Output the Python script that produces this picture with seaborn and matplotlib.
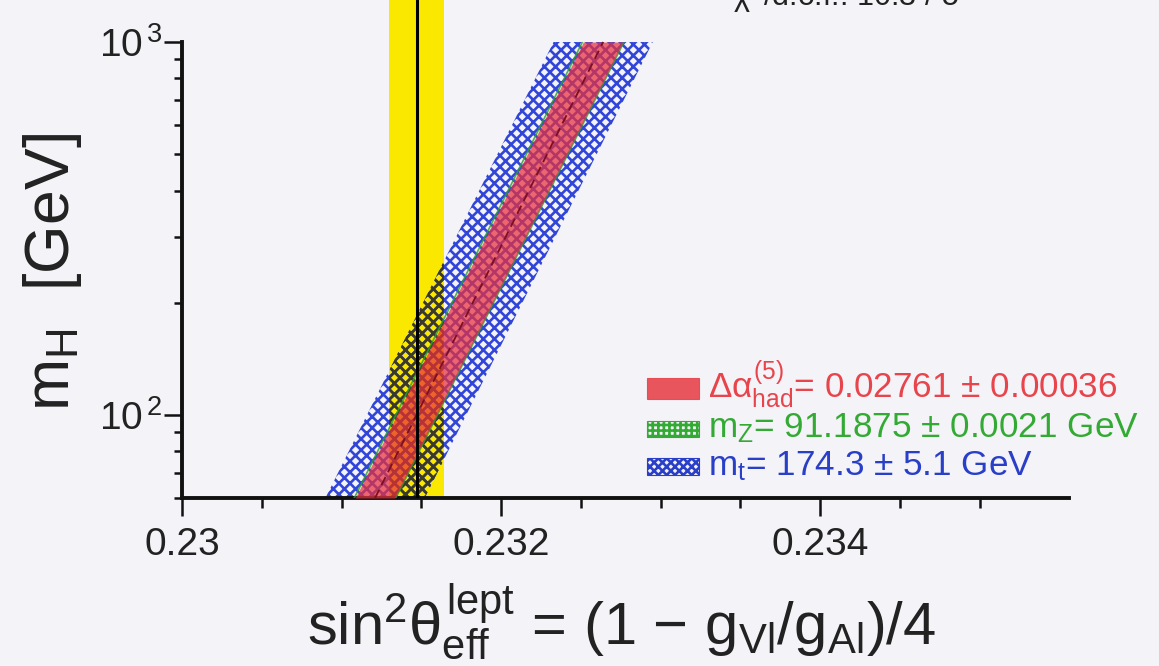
import numpy as np
import pandas as pd
import seaborn as sns
import matplotlib
matplotlib.use("Agg")
import matplotlib.pyplot as plt
from matplotlib.patches import Rectangle
from matplotlib.ticker import FixedLocator, NullFormatter

# ---- data -------------------------------------------------------------
# Higgs mass range covered by the SM prediction band [GeV]
mh_range = [60.0, 1000.0]
# SM prediction of sin^2(theta_eff) at the two ends of mh_range (band centre)
sin2_center = [0.23121, 0.23264]
# half widths of the prediction band from the input parameter errors
dalpha_halfwidth = 0.000124   # Delta alpha_had^(5)
mz_halfwidth = 0.000136       # m_Z (added on top of Delta alpha)
mt_halfwidth = 0.000311       # m_t
# measured effective weak mixing angle
sin2_meas = 0.23147
sin2_err = 0.00017

xtick_values = [0.230, 0.232, 0.234]
xtick_labels = ["0.23", "0.232", "0.234"]
ytick_values = [100, 1000]
ytick_labels = [r"$10^{\,2}$", r"$10^{\,3}$"]

legend_labels = [
    r"$\Delta\alpha^{(5)}_{\rm had}$= 0.02761 $\pm$ 0.00036",
    r"m$_{\rm Z}$= 91.1875 $\pm$ 0.0021 GeV",
    r"m$_{\rm t}$= 174.3 $\pm$ 5.1 GeV",
]
chi2_text = r"$\chi^2$/d.o.f.: 10.3 / 5"

# ---- style ------------------------------------------------------------
BG = "#f4f3f8"
YELLOW = "#fbe800"
RED = "#e8303a"
GREEN = "#2ca02c"
BLUE = "#3146d8"
LEG_RED = "#e8444c"
LEG_GREEN = "#33aa33"
LEG_BLUE = "#2a3fc8"

sns.set_theme(style="ticks")
plt.rcParams.update({
    "font.family": ["Liberation Sans", "DejaVu Sans"],
    "mathtext.fontset": "custom",
    "mathtext.rm": "Liberation Sans",
    "mathtext.it": "Liberation Sans",
    "mathtext.sf": "Liberation Sans",
    "mathtext.bf": "Liberation Sans:bold",
    "hatch.linewidth": 1.9,
    "axes.facecolor": BG,
    "figure.facecolor": BG,
    "savefig.facecolor": BG,
})

W, H = 1159, 666
fig = plt.figure(figsize=(W / 100, H / 100), dpi=100)
ax = fig.add_axes([182 / W, 1 - 498 / H, (1069 - 182) / W, 498 / H])
ax.set_facecolor(BG)
ax.set_yscale("log")
ax.set_xlim(0.23, 0.23556)
ax.set_ylim(60, 1296)

mh = np.array(mh_range)
centre = np.array(sin2_center)

# measured value: yellow 1-sigma band with central line
meas_band = ax.axvspan(sin2_meas - sin2_err, sin2_meas + sin2_err,
                       color=YELLOW, lw=0, zorder=1)

# m_t band: blue cross-hatching, darker where it sits on the yellow band
ax.fill_betweenx(mh, centre - mt_halfwidth, centre + mt_halfwidth,
                 facecolor="none", edgecolor=BLUE, hatch="xxx", lw=0, zorder=2)
dark = ax.fill_betweenx(mh, centre - mt_halfwidth, centre + mt_halfwidth,
                        facecolor="none", edgecolor="#3b3a2a", hatch="xxx",
                        lw=0, zorder=2.1)
dark.set_clip_path(meas_band)

# m_Z contribution: thin strips at the edges of the Delta alpha band
for lo, hi in [(centre - mz_halfwidth, centre - dalpha_halfwidth),
               (centre + dalpha_halfwidth, centre + mz_halfwidth)]:
    ax.fill_betweenx(mh, lo, hi, facecolor=GREEN, edgecolor="none",
                     alpha=0.8, lw=0, zorder=3)

# Delta alpha_had band
ax.fill_betweenx(mh, centre - dalpha_halfwidth, centre + dalpha_halfwidth,
                 facecolor=RED, alpha=0.72, lw=0, zorder=4)

# band centre line
centre_df = pd.DataFrame({"sin2": centre, "mh": mh})
sns.lineplot(data=centre_df, x="sin2", y="mh", ax=ax, sort=False,
             color="#7a1020", lw=1.3, linestyle=(0, (5, 3)), zorder=5)

ax.axvline(sin2_meas, color="black", lw=2.2, zorder=6)

# ---- axes -------------------------------------------------------------
for side in ["top", "right"]:
    ax.spines[side].set_visible(False)
for side in ["left", "bottom"]:
    ax.spines[side].set_linewidth(2.8)
    ax.spines[side].set_color("#111111")
ax.spines["left"].set_bounds(60, 1000)

ax.xaxis.set_major_locator(FixedLocator(xtick_values))
ax.set_xticklabels(xtick_labels)
minor_x = [v for v in np.round(np.arange(0.2305, 0.23501, 0.0005), 4)
           if v not in xtick_values]
ax.xaxis.set_minor_locator(FixedLocator(minor_x))

ax.yaxis.set_major_locator(FixedLocator(ytick_values))
ax.set_yticklabels(ytick_labels)
minor_y = [m * d for d in (10, 100) for m in range(2, 10) if 60 <= m * d < 1000]
ax.yaxis.set_minor_locator(FixedLocator(minor_y))
ax.yaxis.set_minor_formatter(NullFormatter())

ax.tick_params(axis="x", which="major", direction="out", length=13, width=1.8,
               labelsize=28, pad=8, color="#111111", labelcolor="#222222")
ax.tick_params(axis="x", which="minor", direction="out", length=7, width=1.8,
               color="#111111")
ax.tick_params(axis="y", which="major", direction="out", length=13, width=1.8,
               labelsize=28, pad=1, color="#111111", labelcolor="#222222")
ax.tick_params(axis="y", which="minor", direction="out", length=6, width=1.8,
               color="#111111")

ax.set_xlabel(r"sin$^2\theta^{\rm lept}_{\rm eff}$ = (1 $-$ g$_{\rm Vl}$/g$_{\rm Al}$)/4",
              fontsize=43, color="#222222")
ax.xaxis.label.set_va("baseline")
ax.xaxis.set_label_coords((622 - 182) / 887, -(645 - 498) / 498)

ax.set_ylabel(r"m$_{\rm H}$  [GeV]", fontsize=45, color="#222222")
ax.yaxis.label.set_va("baseline")
ax.yaxis.set_label_coords((69 - 182) / 887, 0.454)

# ---- legend -----------------------------------------------------------
rows = [
    dict(y=399, h=21, fc=LEG_RED, ec=LEG_RED, hatch=None, color=LEG_RED),
    dict(y=437, h=16, fc="none", ec=LEG_GREEN, hatch="+++", color=LEG_GREEN),
    dict(y=475, h=17, fc="none", ec=LEG_BLUE, hatch="xxxx", color=LEG_BLUE),
]
for label, r in zip(legend_labels, rows):
    rect = Rectangle((647 / W, 1 - r["y"] / H), 52 / W, r["h"] / H,
                     transform=fig.transFigure, facecolor=r["fc"],
                     edgecolor=r["ec"], hatch=r["hatch"], lw=0.8,
                     alpha=0.9 if r["hatch"] is None else 1.0)
    fig.add_artist(rect)
    fig.text(708 / W, 1 - r["y"] / H, label, color=r["color"],
             fontsize=25.3, va="baseline", ha="left")

fig.text(733 / W, 1 - 6 / H, chi2_text, fontsize=22, color="#222222",
         va="baseline", ha="left")

fig.savefig("out.png", dpi=100)
